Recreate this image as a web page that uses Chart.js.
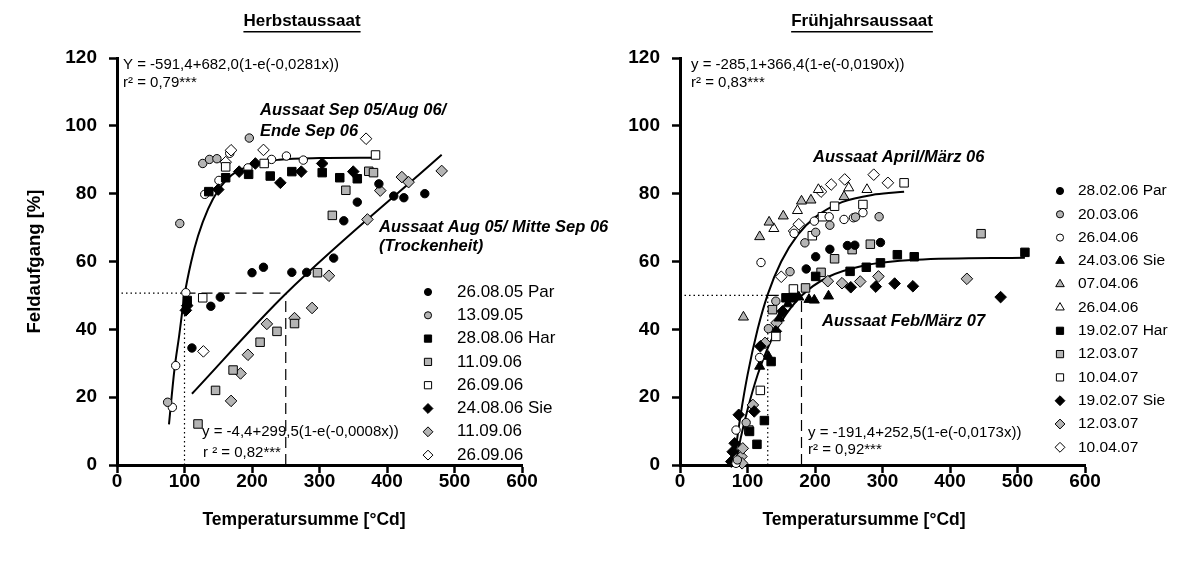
<!DOCTYPE html>
<html>
<head>
<meta charset="utf-8">
<script src="https://cdn.jsdelivr.net/npm/chart.js@4.4.1/dist/chart.umd.min.js"></script>
<style>
  body { margin: 0; background: #fff; width: 1195px; height: 563px; overflow: hidden; position: relative; }
  canvas { position: absolute; top: 0; }
  #left { left: 0; width: 640px; height: 563px; }
  #right { left: 580px; width: 615px; height: 563px; }
</style>
</head>
<body>
<canvas id="left" width="640" height="563"></canvas>
<canvas id="right" width="615" height="563"></canvas>
<script>
const FONT = '"Liberation Sans", Arial, sans-serif';
const GREY = '#b4b4b4';

// axis ticks
const xTicks = [0, 100, 200, 300, 400, 500, 600];
const yTicks = [0, 20, 40, 60, 80, 100, 120];

// ---- Herbstaussaat (left) : [Temperatursumme, Feldaufgang]
const h_260805_par = [[111,34.5],[139,46.8],[153,49.5],[200,56.7],[217,58.3],[259,56.8],[281,56.8],[321,61],[336,72],[356,77.5],[388,82.9],[410,79.3],[425,78.8],[456,80]];
const h_130905 = [[75,18.5],[93,71.2],[127,88.9],[137,90.1],[148,90.3],[196,96.4]];
const h_fitpts = [[82,17],[87,29.3],[102,50.8],[130,79.8],[151,83.9],[167,91.9],[194,87.6],[229,90.1],[251,91.1],[276,89.9]];
const h_280806_har = [[104,48.5],[136,80.6],[161,84.7],[195,85.7],[227,85.2],[259,86.5],[304,86.2],[330,84.7],[356,84.4]];
const h_110906_sq = [[120,12.1],[146,22],[172,28],[212,36.2],[237,39.4],[263,41.7],[297,56.7],[319,73.6],[339,81],[373,86.6],[380,86.2]];
const h_260906_sq = [[127,49.3],[161,87.9],[218,88.9],[383,91.4]];
const h_240806_sie = [[102,45.6],[104,47],[150,81.2],[181,86.5],[205,88.9],[242,83.2],[273,86.5],[304,88.9],[350,86.5]];
const h_110906_di = [[169,18.9],[183,27],[194,32.5],[222,41.6],[263,43.3],[289,46.3],[314,55.8],[371,72.4],[390,80.9],[422,84.9],[432,83.4],[481,86.7]];
const h_260906_di = [[128,33.5],[161,89.3],[169,92.8],[217,92.9],[369,96.2]];

// fitted curves
const h_curveA = [[77,12],[85,28],[92,38],[100,50],[110,60],[120,67.5],[135,75.5],[150,81],[170,85.5],[200,88.5],[240,90],[300,90.5],[383,90.6]];
const h_curveB = [[111,21],[250,50.5],[481,91.5]];
const h_dotH = [[0,50.7],[100,50.7]];
const h_dotV = [[100,0],[100,50.7]];
const h_dashH = [[100,50.7],[250,50.7]];
const h_dashV = [[250,0],[250,50.7]];

// ---- Frühjahrsaussaat (right)
const f_280206_par = [[187,57.8],[201,61.4],[222,63.6],[248,64.7],[259,64.8],[297,65.6]];
const f_200306 = [[85,1.5],[98,12.5],[131,40.2],[142,48.3],[163,57],[185,65.5],[201,68.6],[222,70.7],[260,73.1],[295,73.2]];
const f_260406_c = [[83,0.5],[83,10.3],[118,31.7],[120,59.7],[169,68.3],[199,71.9],[221,73.2],[243,72.4],[257,72.9],[271,74.4]];
const f_240306_sie = [[118,29.1],[131,32],[147,43.3],[160,47.5],[176,49.5],[191,48.8],[199,48.6],[220,49.8]];
const f_070406 = [[94,43.6],[118,67.3],[132,71.6],[153,73.4],[180,77.8],[194,78.1],[243,79.1]];
const f_260406_t = [[139,69.7],[174,75],[205,81.2],[250,81.7],[277,81.2]];
const f_190207_har = [[103,9.9],[114,6.1],[125,13.1],[135,30.5],[157,49.3],[167,49.3],[201,55.6],[252,57.1],[276,58.3],[297,59.6],[322,62],[347,61.4],[511,62.7]];
const f_120307_sq = [[102,10.3],[137,45.8],[186,52.2],[209,56.8],[229,60.8],[255,63.5],[282,65.1],[446,68.2]];
const f_100407_sq = [[119,22],[142,37.9],[168,51.9],[196,67.6],[211,73.2],[229,76.3],[271,76.8],[332,83.2]];
const f_190207_sie = [[76,1],[78,3.9],[81,6.4],[87,14.8],[110,15.8],[119,35],[142,39.4],[152,45.3],[253,52.4],[290,52.6],[318,53.5],[345,52.7],[475,49.5]];
const f_120307_di = [[91,2.5],[92,0.5],[93,4.9],[108,17.7],[126,36],[143,41.9],[219,54.2],[240,53.6],[267,54.1],[294,55.6],[425,54.9]];
const f_100407_di = [[150,55.5],[169,69],[176,71],[209,80.6],[224,82.7],[244,84.2],[287,85.6],[308,83.2]];

const f_curveA = [[82,4],[90,15],[100,26.5],[115,40],[130,50.3],[150,60],[175,68],[200,73],[240,77.5],[290,79.8],[332,80.6]];
const f_curveB = [[82,0],[90,8],[100,16.3],[115,26.6],[130,34.5],[150,42.3],[180,49.9],[220,55.5],[270,58.7],[350,60.5],[511,61.1]];
const f_dotH = [[0,50],[130,50]];
const f_dotV = [[130,0],[130,50]];
const f_dashH = [[130,50],[180,50]];
const f_dashV = [[180,0],[180,50]];

const toXY = arr => arr.map(([x, y]) => ({ x, y }));

const STYLE = {
  blackCircle: { pointStyle: 'circle', backgroundColor: '#000', pointRadius: 4.2 },
  greyCircle:  { pointStyle: 'circle', backgroundColor: GREY, pointRadius: 4.2 },
  whiteCircle: { pointStyle: 'circle', backgroundColor: '#fff', pointRadius: 4.2 },
  blackTri:    { pointStyle: 'triangle', backgroundColor: '#000', pointRadius: 5.8 },
  greyTri:     { pointStyle: 'triangle', backgroundColor: GREY, pointRadius: 5.8 },
  whiteTri:    { pointStyle: 'triangle', backgroundColor: '#fff', pointRadius: 5.8 },
  blackSq:     { pointStyle: 'rect', backgroundColor: '#000', pointRadius: 6 },
  greySq:      { pointStyle: 'rect', backgroundColor: GREY, pointRadius: 6 },
  whiteSq:     { pointStyle: 'rect', backgroundColor: '#fff', pointRadius: 6 },
  blackDi:     { pointStyle: 'rectRot', backgroundColor: '#000', pointRadius: 5.8 },
  greyDi:      { pointStyle: 'rectRot', backgroundColor: GREY, pointRadius: 5.8 },
  whiteDi:     { pointStyle: 'rectRot', backgroundColor: '#fff', pointRadius: 5.8 }
};

function points(label, arr, style) {
  return Object.assign({
    label: label, data: toXY(arr), showLine: false, borderColor: '#000',
    borderWidth: 1, pointBorderWidth: 1, order: 1, clip: 12
  }, style);
}
function curve(arr) {
  return { label: '', data: toXY(arr), showLine: true, pointRadius: 0, borderColor: '#000',
    borderWidth: 2, tension: 0.4, cubicInterpolationMode: 'monotone', order: 5, clip: 5 };
}
function refLine(arr, dash) {
  return { label: '', data: toXY(arr), showLine: true, pointRadius: 0, borderColor: '#000',
    borderWidth: 1.2, borderDash: dash, tension: 0, order: 6 };
}
const DOT = [1.5, 3];
const DASH = [11, 6];

function drawMarker(ctx, style, x, y, r) {
  ctx.fillStyle = style.backgroundColor;
  ctx.strokeStyle = '#000';
  ctx.lineWidth = 1;
  if (Chart.helpers && Chart.helpers.drawPoint) {
    Chart.helpers.drawPoint(ctx, { pointStyle: style.pointStyle, radius: r, borderWidth: 1, rotation: 0 }, x, y);
    return;
  }
  ctx.beginPath();
  ctx.arc(x, y, r, 0, Math.PI * 2);
  ctx.fill(); ctx.stroke();
}

const overlay = {
  id: 'overlay',
  afterDraw(chart, args, opts) {
    const ctx = chart.ctx;
    ctx.save();
    ctx.textBaseline = 'middle';
    (opts.texts || []).forEach(t => {
      ctx.font = t.font;
      ctx.fillStyle = '#000';
      ctx.textAlign = t.align || 'left';
      ctx.fillText(t.text, t.x, t.y);
      if (t.underline) {
        const w = ctx.measureText(t.text).width;
        const x0 = t.align === 'center' ? t.x - w / 2 : t.x;
        ctx.fillRect(x0, t.y + t.underline, w, 1.5);
      }
    });
    const lg = opts.legend;
    if (lg) {
      lg.items.forEach((it, i) => {
        const y = lg.y + i * lg.dy;
        drawMarker(ctx, it.style, lg.x, y, it.style.pointRadius * 0.85);
        ctx.fillStyle = '#000';
        ctx.textAlign = 'left';
        ctx.font = lg.font;
        ctx.fillText(it.label, lg.tx, y);
      });
    }
    ctx.restore();
  }
};

function options(yWidth, padRight, yTitle, ov) {
  const tickFont = { family: FONT, size: 19, weight: 'bold' };
  return {
    responsive: false,
    animation: false,
    layout: { padding: { top: 58, right: padRight, bottom: 0, left: 0 } },
    plugins: { legend: { display: false }, tooltip: { enabled: false }, overlay: ov },
    scales: {
      x: {
        type: 'linear', position: 'bottom', min: 0, max: 600,
        afterBuildTicks: s => { s.ticks = xTicks.map(v => ({ value: v })); },
        ticks: { color: '#000', font: tickFont, padding: -3, maxRotation: 0 },
        grid: { drawOnChartArea: false, drawTicks: true, tickLength: 8, tickWidth: 2.5, tickColor: '#000' },
        border: { display: true, color: '#000', width: 3 },
        afterFit: s => { s.height = 563 - 465; }
      },
      y: {
        type: 'linear', min: 0, max: 120,
        afterBuildTicks: s => { s.ticks = yTicks.map(v => ({ value: v })); },
        ticks: { color: '#000', font: tickFont, padding: 12 },
        grid: { drawOnChartArea: false, drawTicks: true, tickLength: 8, tickWidth: 2.5, tickColor: '#000' },
        border: { display: true, color: '#000', width: 3 },
        title: { display: !!yTitle, text: yTitle || '', color: '#000',
                 font: { family: FONT, size: 18.5, weight: 'bold' }, padding: { top: 24, bottom: 0 } },
        afterFit: s => { s.width = yWidth; }
      }
    }
  };
}

const eqFont = '15px ' + FONT;
const noteFont = 'italic bold 16.5px ' + FONT;
const titleFont = 'bold 17px ' + FONT;
const axFont = 'bold 17.5px ' + FONT;

// ---- left chart
const leftSeries = [
  ['26.08.05 Par', h_260805_par, STYLE.blackCircle],
  ['13.09.05', h_130905, STYLE.greyCircle],
  ['28.08.06 Har', h_280806_har, STYLE.blackSq],
  ['11.09.06', h_110906_sq, STYLE.greySq],
  ['26.09.06', h_260906_sq, STYLE.whiteSq],
  ['24.08.06 Sie', h_240806_sie, STYLE.blackDi],
  ['11.09.06', h_110906_di, STYLE.greyDi],
  ['26.09.06', h_260906_di, STYLE.whiteDi]
];
const leftData = leftSeries.map(s => points(s[0], s[1], s[2]));
leftData.push(points('', h_fitpts, STYLE.whiteCircle));
leftData.push(curve(h_curveA), curve(h_curveB),
  refLine(h_dotH, DOT), refLine(h_dotV, DOT), refLine(h_dashH, DASH), refLine(h_dashV, DASH));

new Chart(document.getElementById('left'), {
  type: 'scatter',
  data: { datasets: leftData },
  options: options(117, 640 - 522, 'Feldaufgang [%]', {
    texts: [
      { text: 'Herbstaussaat', x: 302, y: 21, font: titleFont, align: 'center', underline: 10 },
      { text: 'Temperatursumme [°Cd]', x: 304, y: 520, font: axFont, align: 'center' },
      { text: 'Y = -591,4+682,0(1-e(-0,0281x))', x: 123, y: 65, font: eqFont },
      { text: 'r² = 0,79***', x: 123, y: 83, font: eqFont },
      { text: 'Aussaat Sep 05/Aug 06/', x: 260, y: 110, font: noteFont },
      { text: 'Ende Sep 06', x: 260, y: 131.5, font: noteFont },
      { text: 'Aussaat Aug 05/ Mitte Sep 06', x: 379, y: 227, font: noteFont },
      { text: '(Trockenheit)', x: 379, y: 246.5, font: noteFont },
      { text: 'y = -4,4+299,5(1-e(-0,0008x))', x: 202, y: 432, font: eqFont },
      { text: 'r ² = 0,82***', x: 203, y: 452.5, font: eqFont }
    ],
    legend: { x: 428, tx: 457, y: 292, dy: 23.3, font: '17px ' + FONT,
      items: leftSeries.map(s => ({ label: s[0], style: s[2] })) }
  }),
  plugins: [overlay]
});

// ---- right chart
const rightSeries = [
  ['28.02.06 Par', f_280206_par, STYLE.blackCircle],
  ['20.03.06', f_200306, STYLE.greyCircle],
  ['26.04.06', f_260406_c, STYLE.whiteCircle],
  ['24.03.06 Sie', f_240306_sie, STYLE.blackTri],
  ['07.04.06', f_070406, STYLE.greyTri],
  ['26.04.06', f_260406_t, STYLE.whiteTri],
  ['19.02.07 Har', f_190207_har, STYLE.blackSq],
  ['12.03.07', f_120307_sq, STYLE.greySq],
  ['10.04.07', f_100407_sq, STYLE.whiteSq],
  ['19.02.07 Sie', f_190207_sie, STYLE.blackDi],
  ['12.03.07', f_120307_di, STYLE.greyDi],
  ['10.04.07', f_100407_di, STYLE.whiteDi]
];
const rightData = rightSeries.map(s => points(s[0], s[1], s[2]));
rightData.push(curve(f_curveA), curve(f_curveB),
  refLine(f_dotH, DOT), refLine(f_dotV, DOT), refLine(f_dashH, DASH), refLine(f_dashV, DASH));

new Chart(document.getElementById('right'), {
  type: 'scatter',
  data: { datasets: rightData },
  options: options(100, 615 - 505, '', {
    texts: [
      { text: 'Frühjahrsaussaat', x: 282, y: 21, font: titleFont, align: 'center', underline: 10 },
      { text: 'Temperatursumme [°Cd]', x: 284, y: 520, font: axFont, align: 'center' },
      { text: 'y = -285,1+366,4(1-e(-0,0190x))', x: 111, y: 65, font: eqFont },
      { text: 'r² = 0,83***', x: 111, y: 83, font: eqFont },
      { text: 'Aussaat April/März 06', x: 233, y: 157, font: noteFont },
      { text: 'Aussaat Feb/März 07', x: 242, y: 321, font: noteFont },
      { text: 'y = -191,4+252,5(1-e(-0,0173x))', x: 228, y: 433, font: eqFont },
      { text: 'r² = 0,92***', x: 228, y: 450, font: eqFont }
    ],
    legend: { x: 480, tx: 498, y: 191, dy: 23.3, font: '15.5px ' + FONT,
      items: rightSeries.map(s => ({ label: s[0], style: s[2] })) }
  }),
  plugins: [overlay]
});
</script>
</body>
</html>
